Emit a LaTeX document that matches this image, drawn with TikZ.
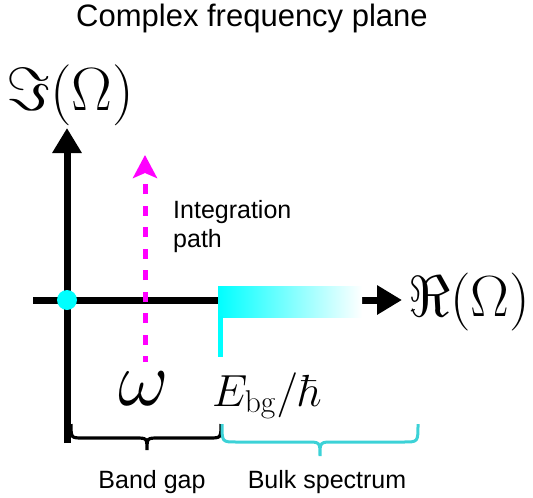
\documentclass[tikz,border=0pt]{standalone}
\usepackage{fix-cm}
\usepackage[no-math]{fontspec}
\newfontfamily\labfont{Liberation Sans}
\usetikzlibrary{arrows.meta}
\definecolor{bracecyan}{RGB}{60,210,215}
\definecolor{purecyan}{RGB}{0,255,255}
\definecolor{puremagenta}{RGB}{255,0,255}
\tikzset{
  axisarrow/.style={line width=7pt, -{Triangle[length=25pt,width=28pt]}},
  intpath/.style={puremagenta, line width=5pt, dash pattern=on 10pt off 11.5pt, dash phase=4pt,
    -{Stealth[length=23pt,width=24pt,inset=5pt]}},
  blackbrace/.style={line width=3.2pt, black},
  cyanbrace/.style={line width=3pt, bracecyan},
  lab/.style={inner sep=0pt, font=\labfont\fontsize{25}{29}\selectfont},
  mathlab/.style={inner sep=0pt, anchor=base west},
}
\begin{document}
\begin{tikzpicture}[x=1pt, y=-1pt]
\useasboundingbox (0,0) rectangle (533,498);
% coordinates
\coordinate (vb) at (67,443);
\coordinate (vt) at (67,128);
\coordinate (hl) at (33,300);
\coordinate (hr) at (402,300);
\coordinate (pb) at (145,362);
\coordinate (pt) at (145,155);
% axes
\draw[axisarrow] (vb) -- (vt);
\draw[axisarrow] (hl) -- (hr);
% bulk spectrum band
\shade[left color=purecyan, right color=white] (218,286) rectangle (362,317);
\fill[purecyan] (218,316) rectangle (223,357);
% origin dot
\node[circle, fill=purecyan, minimum size=20pt, inner sep=0pt] (origin) at (67,300) {};
% integration path
\draw[intpath] (pb) -- (pt);
% braces
\draw[blackbrace] (71,424) .. controls (71,438) .. (83,438) -- (135,438)
  .. controls (147,438) .. (147,450) .. controls (147,438) .. (159,438) -- (209,438)
  .. controls (221,438) .. (221,424);
\draw[cyanbrace] (222,424) .. controls (222,442) .. (236,442) -- (306,442)
  .. controls (320,442) .. (320,456) .. controls (320,442) .. (334,442) -- (404,442)
  .. controls (418,442) .. (418,424);
% labels
\node[anchor=base, inner sep=0pt, font=\labfont\fontsize{31}{36}\selectfont] (title) at (252,26) {Complex frequency plane};
\node[mathlab, font=\fontsize{61}{66}\selectfont] (imlab) at (6,110) {$\Im(\Omega)$};
\node[mathlab, font=\fontsize{58}{64}\selectfont] (relab) at (408,316) {$\Re(\Omega)$};
\node[mathlab, font=\fontsize{78}{82}\selectfont] (omega) at (118,405) {$\omega$};
\node[mathlab, font=\fontsize{45}{50}\selectfont] (ebg) at (212,406) {$E_{\mathrm{bg}}/\hbar$};
\node[lab, anchor=base west] (intlab) at (173,218) {Integration};
\node[lab, anchor=base west] (intlabb) at (173,247) {path};
\node[lab, anchor=base] (gaplab) at (152,488) {Band gap};
\node[lab, anchor=base] (bulklab) at (327,488) {Bulk spectrum};
\end{tikzpicture}
\end{document}
